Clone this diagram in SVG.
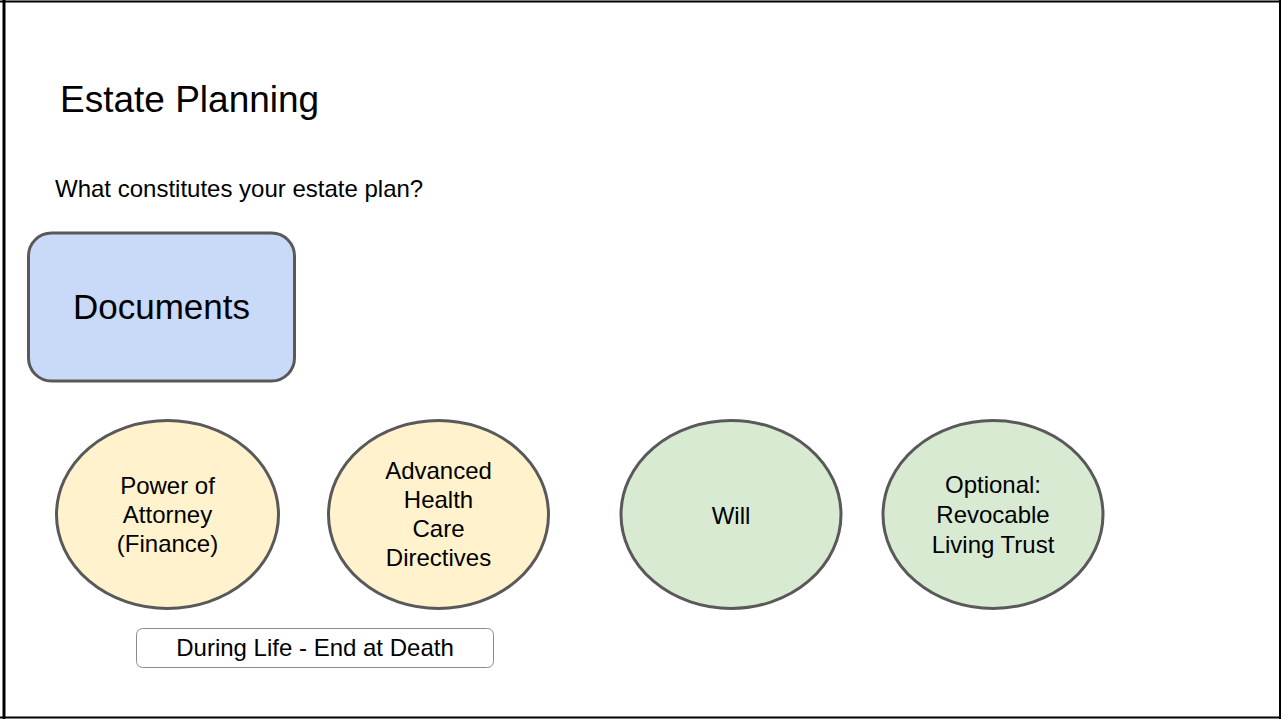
<svg xmlns="http://www.w3.org/2000/svg" width="1281" height="719" viewBox="0 0 1281 719">
<style>
  .t { font-family: "Liberation Sans", Arial, sans-serif; fill: #000; }
  .node { stroke: #595959; stroke-width: 3; }
  .yellow { fill: #fff2cc; }
  .green { fill: #d9ead3; }
  .lbl { font-size: 24px; text-anchor: middle; }
</style>
<rect x="0" y="0" width="1281" height="719" fill="#ffffff"/>
<g id="frame">
  <line x1="4" y1="0" x2="4" y2="719" stroke="#000" stroke-width="3"/>
  <line x1="0" y1="1.5" x2="1281" y2="1.5" stroke="#000" stroke-width="2"/>
  <line x1="1280" y1="0" x2="1280" y2="719" stroke="#000" stroke-width="2"/>
  <line x1="0" y1="717.5" x2="1281" y2="717.5" stroke="#000" stroke-width="2"/>
</g>
<g id="title">
  <text class="t" x="60" y="112" font-size="37">Estate Planning</text>
</g>
<g id="subtitle">
  <text class="t" x="55" y="197" font-size="24">What constitutes your estate plan?</text>
</g>
<g id="documents">
  <rect x="28.5" y="233" width="266" height="148" rx="23" ry="23" fill="#c9daf8" class="node"/>
  <text class="t" x="161.5" y="319" font-size="35" text-anchor="middle">Documents</text>
</g>
<g id="power-of-attorney">
  <ellipse cx="167.5" cy="514.5" rx="111" ry="94" class="node yellow"/>
  <text class="t lbl" x="167.5" y="494">Power of</text>
  <text class="t lbl" x="167.5" y="523">Attorney</text>
  <text class="t lbl" x="167.5" y="552">(Finance)</text>
</g>
<g id="health-care-directives">
  <ellipse cx="438.5" cy="514.5" rx="110" ry="94" class="node yellow"/>
  <text class="t lbl" x="438.5" y="479">Advanced</text>
  <text class="t lbl" x="438.5" y="508">Health</text>
  <text class="t lbl" x="438.5" y="537">Care</text>
  <text class="t lbl" x="438.5" y="566">Directives</text>
</g>
<g id="will">
  <ellipse cx="731" cy="514.5" rx="110" ry="94" class="node green"/>
  <text class="t lbl" x="731" y="524">Will</text>
</g>
<g id="living-trust">
  <ellipse cx="993" cy="514.5" rx="110" ry="94" class="node green"/>
  <text class="t lbl" x="993" y="493">Optional:</text>
  <text class="t lbl" x="993" y="523">Revocable</text>
  <text class="t lbl" x="993" y="553">Living Trust</text>
</g>
<g id="during-life">
  <rect x="136.5" y="628.5" width="357" height="39" rx="6" ry="6" fill="#ffffff" stroke="#8c8c8c" stroke-width="1"/>
  <text class="t lbl" x="315" y="656">During Life - End at Death</text>
</g>
<g id="connectors"></g>
</svg>
